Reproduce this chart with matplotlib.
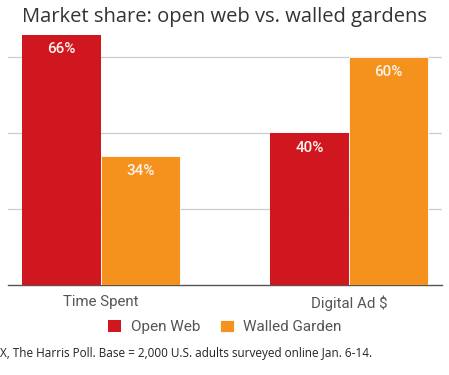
import matplotlib.pyplot as plt
import numpy as np

categories = ["Time Spent", "Digital Ad $"]
series_names = ["Open Web", "Walled Garden"]
open_web = [66, 40]
walled_garden = [34, 60]
colors = ["#D0161F", "#F5921E"]

fig = plt.figure(figsize=(4.49, 3.75), dpi=100)
# axes placed to match the reference plot area
ax = fig.add_axes([8 / 449, 1 - 285 / 375, 434 / 449, (285 - 30) / 375])

x = np.arange(len(categories))
w = 0.32
bars1 = ax.bar(x - w / 2, open_web, w, color=colors[0], label=series_names[0], zorder=3)
bars2 = ax.bar(x + w / 2, walled_garden, w, color=colors[1], label=series_names[1], zorder=3,
               edgecolor="white", linewidth=0.6)

for bars in (bars1, bars2):
    for b in bars:
        ax.text(b.get_x() + b.get_width() / 2, b.get_height() - 2.0, f"{int(b.get_height())}%",
                ha="center", va="top", color="#fdf3ea", fontsize=11, family="Roboto",
                fontweight="medium", zorder=4)

ax.set_xlim(-0.375, 1.375)
ax.set_ylim(0, 67.2)
ax.set_yticks([20, 40, 60])
ax.yaxis.grid(True, color="#cccccc", linewidth=0.9, zorder=0)
ax.tick_params(axis="y", left=False, labelleft=False)
ax.tick_params(axis="x", bottom=False, labelsize=10.8, labelcolor="#555555", pad=4)
ax.set_xticks(x)
ax.set_xticklabels(categories, family="Roboto")
for s in ["top", "right", "left"]:
    ax.spines[s].set_visible(False)
ax.spines["bottom"].set_color("#555555")
ax.spines["bottom"].set_linewidth(1.0)

fig.text(0.5, 1 - 17 / 375, "Market share: open web vs. walled gardens", ha="center", va="center",
         fontsize=14.5, color="#333333", family="Open Sans")

fig.legend(loc="center", bbox_to_anchor=(0.5, 1 - 327 / 375), ncol=2, frameon=False,
           prop={"family": "Roboto", "size": 11}, handlelength=0.9, handleheight=0.9,
           columnspacing=1.3, handletextpad=0.6, labelcolor="#555555")

fig.text(0.0, 1 - 353 / 375, "X, The Harris Poll. Base = 2,000 U.S. adults surveyed online Jan. 6-14.",
         ha="left", va="center", fontsize=8.5, color="#222222", family="Open Sans")

fig.savefig("out.png", dpi=100)
